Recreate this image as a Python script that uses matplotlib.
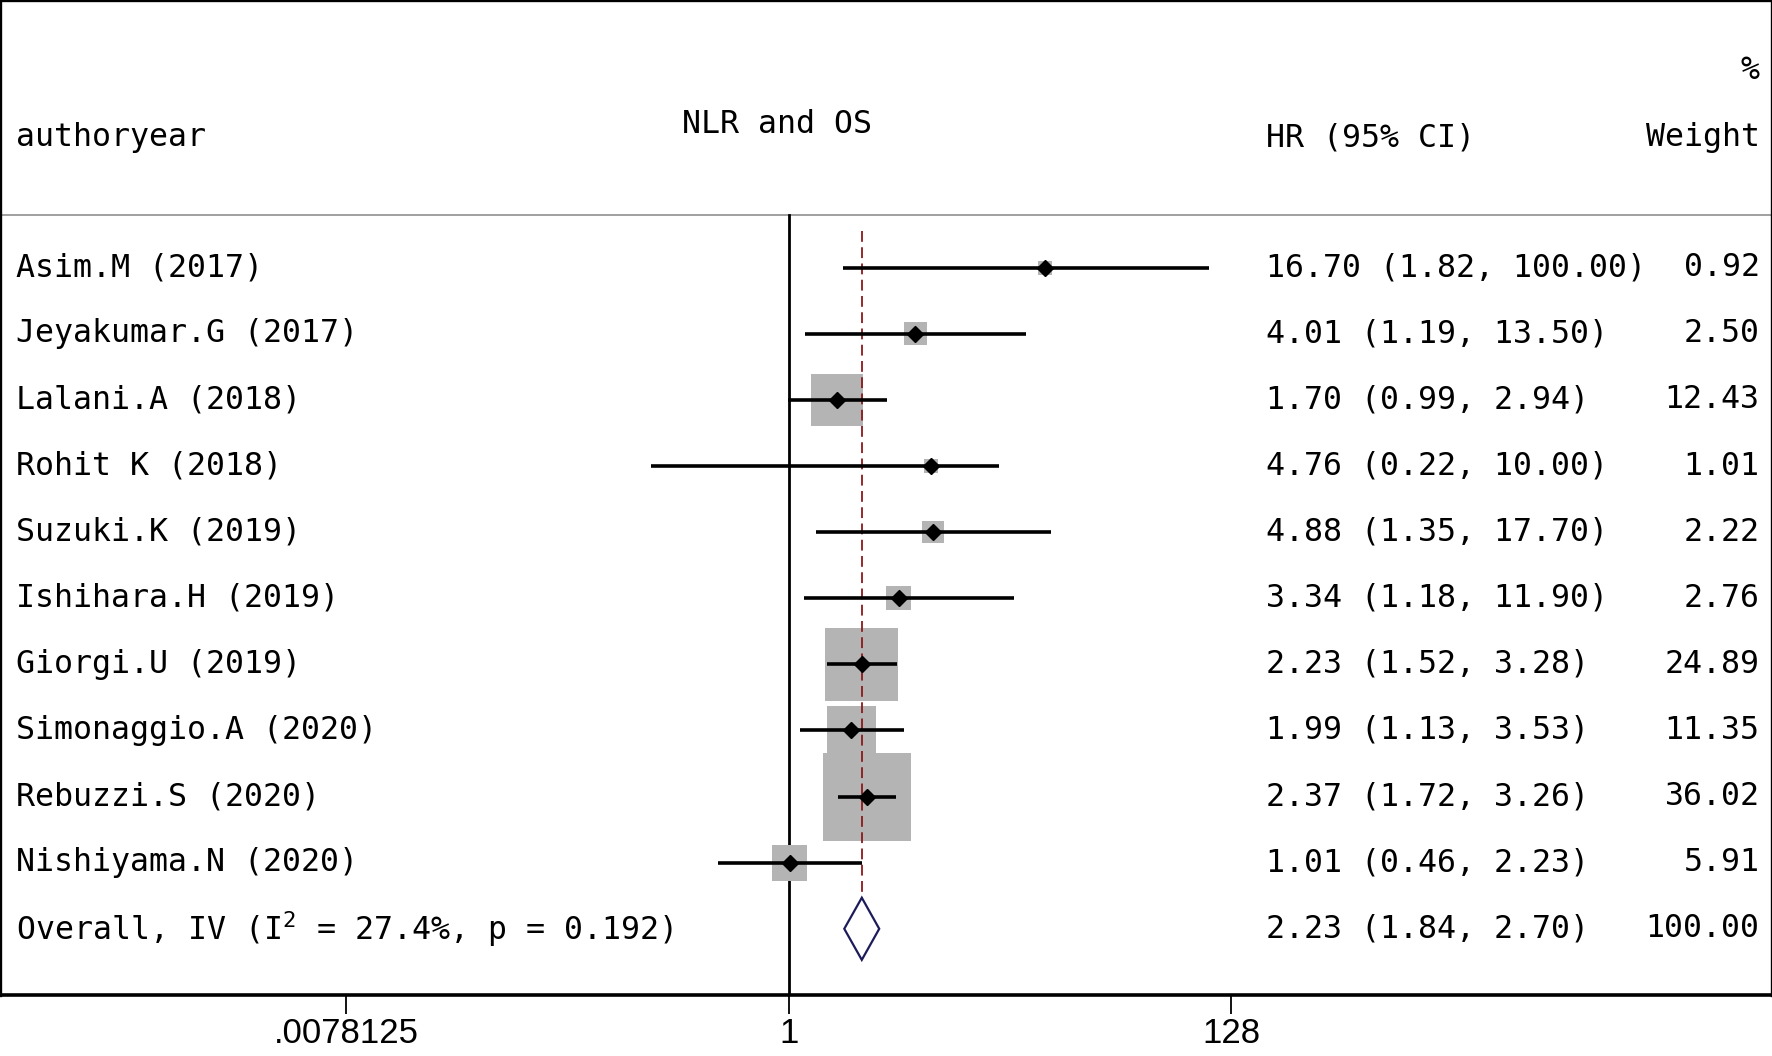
import matplotlib
import matplotlib.pyplot as plt

matplotlib.use("Agg")

# Study data
studies = [
    "Asim.M (2017)",
    "Jeyakumar.G (2017)",
    "Lalani.A (2018)",
    "Rohit K (2018)",
    "Suzuki.K (2019)",
    "Ishihara.H (2019)",
    "Giorgi.U (2019)",
    "Simonaggio.A (2020)",
    "Rebuzzi.S (2020)",
    "Nishiyama.N (2020)",
]
hr = [16.70, 4.01, 1.70, 4.76, 4.88, 3.34, 2.23, 1.99, 2.37, 1.01]
ci_low = [1.82, 1.19, 0.99, 0.22, 1.35, 1.18, 1.52, 1.13, 1.72, 0.46]
ci_high = [100.00, 13.50, 2.94, 10.00, 17.70, 11.90, 3.28, 3.53, 3.26, 2.23]
weights = [0.92, 2.50, 12.43, 1.01, 2.22, 2.76, 24.89, 11.35, 36.02, 5.91]

overall_label = r"Overall, IV (I$\mathregular{^2}$ = 27.4%, p = 0.192)"
overall_hr = 2.23
overall_low = 1.84
overall_high = 2.70
overall_weight = 100.00

x_ticks = [2 ** -7, 1, 2 ** 7]
x_tick_labels = [".0078125", "1", "128"]

MONO = "DejaVu Sans Mono"
TEXT_SIZE = 22.8
SQUARE_GREY = "#b4b4b4"
REF_RED = "#8b1a1a"
DIAMOND_NAVY = "#1c1c5a"

plt.rcParams["mathtext.fontset"] = "custom"
plt.rcParams["mathtext.rm"] = MONO

fig = plt.figure(figsize=(17.72, 10.56), dpi=100)
ax = fig.add_axes([0, 1 - 994.5 / 1056, 1, 994.5 / 1056])

ax.set_xscale("log", base=2)
ax.set_xlim(2 ** -12.48, 2 ** 15.56)
ax.set_ylim(10.994, -4.051)

rows = list(range(len(studies)))
overall_row = len(studies)

# header separator and reference lines
ax.axhline(-0.803, color="#a0a0a0", lw=1.4, zorder=1)
ax.plot([1, 1], [-0.803, 10.994], color="black", lw=2.0, zorder=2)
ax.plot([overall_hr, overall_hr], [-0.55, overall_row + 0.5], color=REF_RED,
        lw=1.3, linestyle=(0, (6, 3)), zorder=4)

# weight squares, CI lines, point estimates
ax.scatter(hr, rows, s=[w * 4020 / 36.02 for w in weights], marker="s",
           color=SQUARE_GREY, edgecolors="none", zorder=3)
ax.hlines(rows, ci_low, ci_high, color="black", lw=2.6, zorder=5)
ax.plot(hr, rows, linestyle="none", marker="D", markersize=8,
        color="black", zorder=6)

# overall diamond
ax.fill([overall_low, overall_hr, overall_high, overall_hr],
        [overall_row, overall_row - 0.47, overall_row, overall_row + 0.47],
        facecolor="white", edgecolor=DIAMOND_NAVY, lw=1.6, zorder=6)

# text columns
tr = ax.get_yaxis_transform()
txt = dict(family=MONO, fontsize=TEXT_SIZE, va="center", transform=tr)
for i, name in enumerate(studies):
    ax.text(0.0089, i, name, ha="left", **txt)
    ax.text(0.7143, i, f"{hr[i]:.2f} ({ci_low[i]:.2f}, {ci_high[i]:.2f})",
            ha="left", **txt)
    ax.text(0.993, i, f"{weights[i]:.2f}", ha="right", **txt)

ax.text(0.0089, overall_row, overall_label, ha="left", **txt)
ax.text(0.7143, overall_row,
        f"{overall_hr:.2f} ({overall_low:.2f}, {overall_high:.2f})",
        ha="left", **txt)
ax.text(0.993, overall_row, f"{overall_weight:.2f}", ha="right", **txt)

# headers
ax.text(0.0089, -1.965, "authoryear", ha="left", **txt)
ax.text(0.4385, -2.17, "NLR and OS", ha="center", **txt)
ax.text(0.7143, -1.965, "HR (95% CI)", ha="left", **txt)
ax.text(0.993, -2.99, "%", ha="right", **txt)
ax.text(0.993, -1.965, "Weight", ha="right", **txt)

# axis styling
ax.set_yticks([])
ax.set_xticks(x_ticks)
ax.set_xticklabels(x_tick_labels)
ax.minorticks_off()
ax.tick_params(axis="x", direction="out", length=14, width=1.3, pad=2,
               labelsize=25, colors="black")
for lab in ax.get_xticklabels():
    lab.set_family("Liberation Sans")
for side in ["top", "left", "right"]:
    ax.spines[side].set_linewidth(2.4)
ax.spines["bottom"].set_linewidth(2.6)

fig.savefig("out.png", dpi=100)
plt.close(fig)
